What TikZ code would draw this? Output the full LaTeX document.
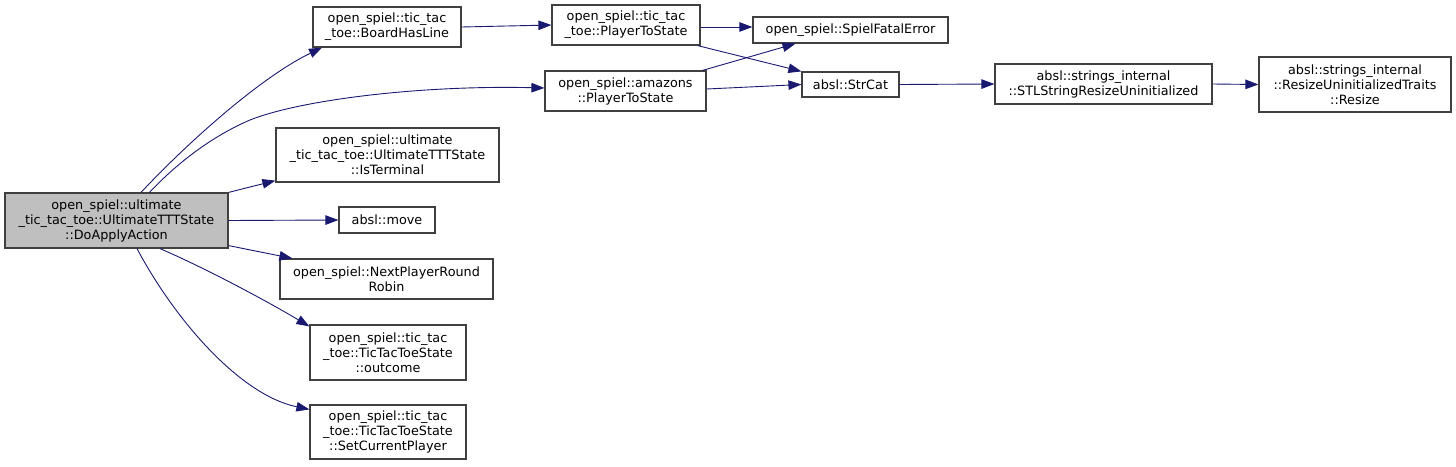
\documentclass[tikz,border=0pt]{standalone}
\usepackage{fontspec}
\setmainfont{DejaVu Sans}
\usetikzlibrary{positioning,arrows.meta}
\definecolor{edgeblue}{HTML}{191970}
\definecolor{boxline}{HTML}{404040}
\definecolor{mainfill}{HTML}{BFBFBF}

\begin{document}
\begin{tikzpicture}[x=1pt, y=-1pt,
  fn/.style={draw=boxline, line width=1.2pt, fill=white, align=center,
    inner sep=0pt, font=\fontsize{12.8}{15}\selectfont},
  call/.style={draw=edgeblue, line width=0.9pt,
    -{Triangle[length=13pt, width=9.5pt]}}]
\useasboundingbox (0,0) rectangle (1456,466);

\node[fn, fill=mainfill, minimum width=223, minimum height=55] (main) at (116.5,220.5)
  {open\_spiel::ultimate\\\_tic\_tac\_toe::UltimateTTTState\\::DoApplyAction};

\node[fn, minimum width=148, minimum height=40] (boardline) at (387,27)
  {open\_spiel::tic\_tac\\\_toe::BoardHasLine};
\node[fn, minimum width=148, minimum height=40] (tttstate) at (626,25)
  {open\_spiel::tic\_tac\\\_toe::PlayerToState};
\node[fn, minimum width=195, minimum height=26] (fatal) at (850.5,30)
  {open\_spiel::SpielFatalError};
\node[fn, minimum width=161, minimum height=40] (amazons) at (625.5,91)
  {open\_spiel::amazons\\::PlayerToState};
\node[fn, minimum width=97, minimum height=25] (strcat) at (850.5,84.5)
  {absl::StrCat};
\node[fn, minimum width=217, minimum height=40] (stlresize) at (1103.5,84)
  {absl::strings\_internal\\::STLStringResizeUninitialized};
\node[fn, minimum width=192, minimum height=55] (resize) at (1355,84.5)
  {absl::strings\_internal\\::ResizeUninitializedTraits\\::Resize};

\node[fn, minimum width=223, minimum height=54] (isterminal) at (387.5,155)
  {open\_spiel::ultimate\\\_tic\_tac\_toe::UltimateTTTState\\::IsTerminal};
\node[fn, minimum width=96, minimum height=26] (move) at (387,220)
  {absl::move};
\node[fn, minimum width=213, minimum height=40] (nextplayer) at (386.5,279)
  {open\_spiel::NextPlayerRound\\Robin};
\node[fn, minimum width=156, minimum height=55] (outcome) at (388,352.5)
  {open\_spiel::tic\_tac\\\_toe::TicTacToeState\\::outcome};
\node[fn, minimum width=156, minimum height=54] (setplayer) at (388,432)
  {open\_spiel::tic\_tac\\\_toe::TicTacToeState\\::SetCurrentPlayer};

% calls from DoApplyAction
\draw[call] ([xshift=24.5pt]main.north) .. controls (195,135) and (265,75) .. ([xshift=-65pt]boardline.south);
\draw[call] ([xshift=33pt]main.north) .. controls (180,160) and (215,135) .. (250,120)
  .. controls (300,100) and (420,85) .. ([yshift=3pt]amazons.west);
\draw[call] (main.north east) -- ([yshift=2pt]isterminal.south west);
\draw[call] (main.east) -- (move.west);
\draw[call] ([yshift=3pt]main.south east) -- ([xshift=13pt]nextplayer.north west);
\draw[call] ([xshift=43.5pt]main.south) .. controls (205,268) and (265,300) .. ([yshift=-2pt]outcome.north west);
\draw[call] ([xshift=20.5pt]main.south) .. controls (175,320) and (240,395) .. ([yshift=-5pt]setplayer.north west);

% second level
\draw[call] (boardline.east) -- (tttstate.west);
\draw[call] ([yshift=-2pt]tttstate.east) -- ([yshift=3pt]fatal.west);
\draw[call] ([xshift=-3pt]tttstate.south east) -- (strcat.north west);
\draw[call] ([xshift=-4pt]amazons.north east) -- ([xshift=-55pt]fatal.south);
\draw[call] ([yshift=2pt]amazons.east) -- (strcat.west);
\draw[call] (strcat.east) -- (stlresize.west);
\draw[call] (stlresize.east) -- (resize.west);
\end{tikzpicture}
\end{document}
